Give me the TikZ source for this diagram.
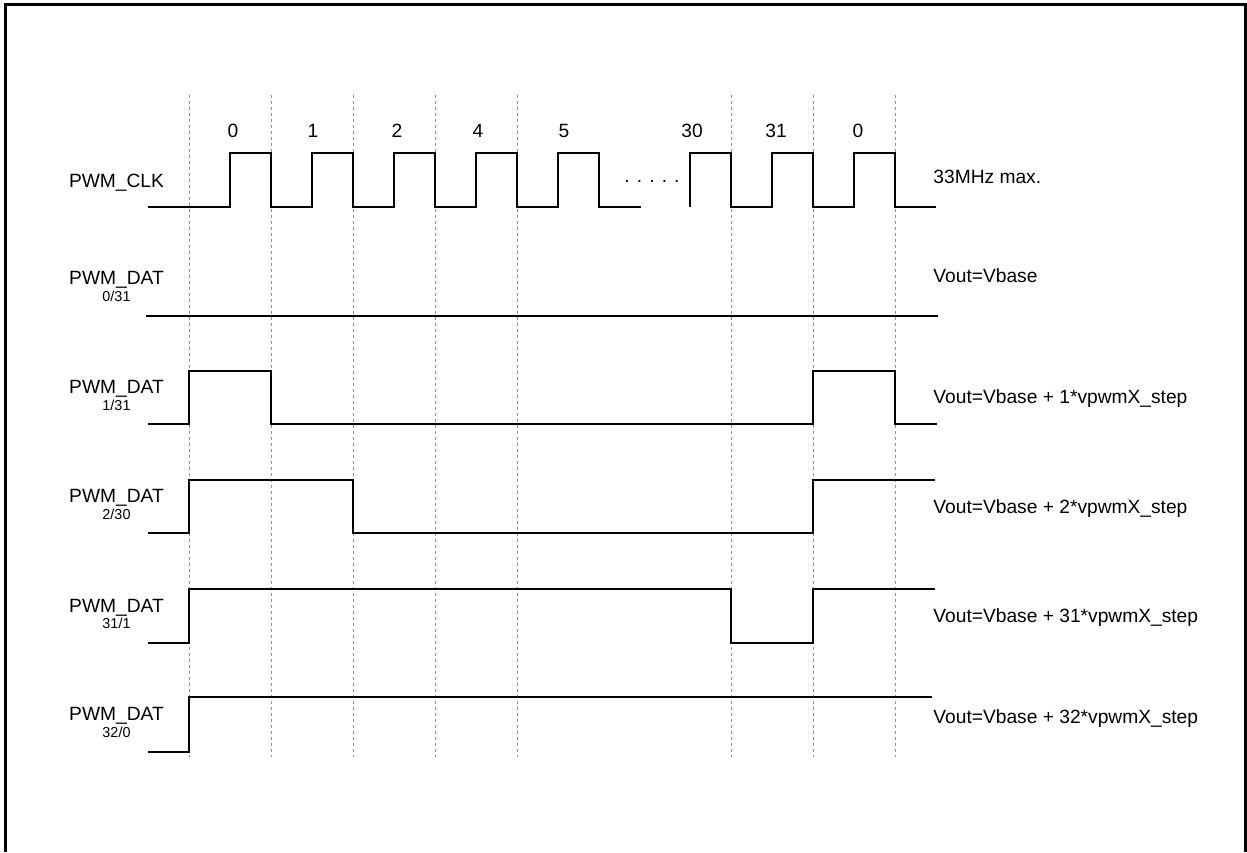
\documentclass[tikz,border=0pt]{standalone}
\usepackage{fontspec}
\setmainfont{Liberation Sans}
\usetikzlibrary{positioning}

\begin{document}
\begin{tikzpicture}[x=0.5pt, y=-0.5pt,
  lbl/.style={anchor=base, inner sep=0pt, font=\fontsize{9.6}{11}\selectfont},
  ratio/.style={anchor=base, inner sep=0pt, font=\fontsize{7.2}{8.5}\selectfont},
  note/.style={anchor=base west, inner sep=0pt, font=\fontsize{9.6}{11}\selectfont},
  wave/.style={line width=1.4pt, line join=miter},
  cyc/.style={gray!85, line width=0.45pt, dash pattern=on 1.5pt off 1.5pt}]
\useasboundingbox (0,0) rectangle (1247,852);
\draw[line width=1.5pt] (5.5,852) -- (5.5,4) -- (1245,4) -- (1245,852);
% cycle boundaries and numbers
\foreach \x in {189,271,353,435,517,731,813,895} \draw[cyc] (\x,95) -- (\x,757);
\foreach \x/\n in {233/0,313/1,397/2,478/4,564/5,692/30,776/31,858/0} \node[lbl] (n\x) at (\x,137) {\n};
% clock
\node[lbl] (clk) at (116.5,187) {PWM\_CLK};
\draw[wave] (148,207) \foreach \x in {230,312,394,476,558} {-- (\x,207) -- (\x,153) -- (\x+41,153) -- (\x+41,207)} -- (641,207);
\node[lbl] (dots) at (652,182) {. . . . .};
\draw[wave] (690,207) \foreach \x in {690,772,854} {-- (\x,153) -- (\x+41,153) -- (\x+41,207) -- (\x+82,207)};
\node[note] (fclk) at (933,183) {33MHz max.};
% data lines
\node[lbl] (dat0) at (116.5,284) {PWM\_DAT}; \node[ratio] (r0) at (116.5,301) {0/31};
\draw[wave] (146,316) -- (938,316);
\node[note] (v0) at (933,282) {Vout=Vbase};
\node[lbl] (dat1) at (116.5,393) {PWM\_DAT}; \node[ratio] (r1) at (116.5,410) {1/31};
\draw[wave] (148,424) -- (189,424) -- (189,371) -- (271,371) -- (271,424) -- (813,424) -- (813,371) -- (895,371) -- (895,424) -- (937,424);
\node[note] (v1) at (933,403) {Vout=Vbase + 1*vpwmX\_step};
\node[lbl] (dat2) at (116.5,502) {PWM\_DAT}; \node[ratio] (r2) at (116.5,519) {2/30};
\draw[wave] (148,533) -- (189,533) -- (189,480) -- (353,480) -- (353,533) -- (813,533) -- (813,480) -- (935,480);
\node[note] (v2) at (933,513) {Vout=Vbase + 2*vpwmX\_step};
\node[lbl] (dat31) at (116.5,612) {PWM\_DAT}; \node[ratio] (r31) at (116.5,628) {31/1};
\draw[wave] (148,643) -- (189,643) -- (189,589) -- (731,589) -- (731,643) -- (813,643) -- (813,589) -- (935,589);
\node[note] (v31) at (933,622) {Vout=Vbase + 31*vpwmX\_step};
\node[lbl] (dat32) at (116.5,720) {PWM\_DAT}; \node[ratio] (r32) at (116.5,737) {32/0};
\draw[wave] (148,752) -- (189,752) -- (189,697) -- (932,697);
\node[note] (v32) at (933,723) {Vout=Vbase + 32*vpwmX\_step};
\end{tikzpicture}
\end{document}
